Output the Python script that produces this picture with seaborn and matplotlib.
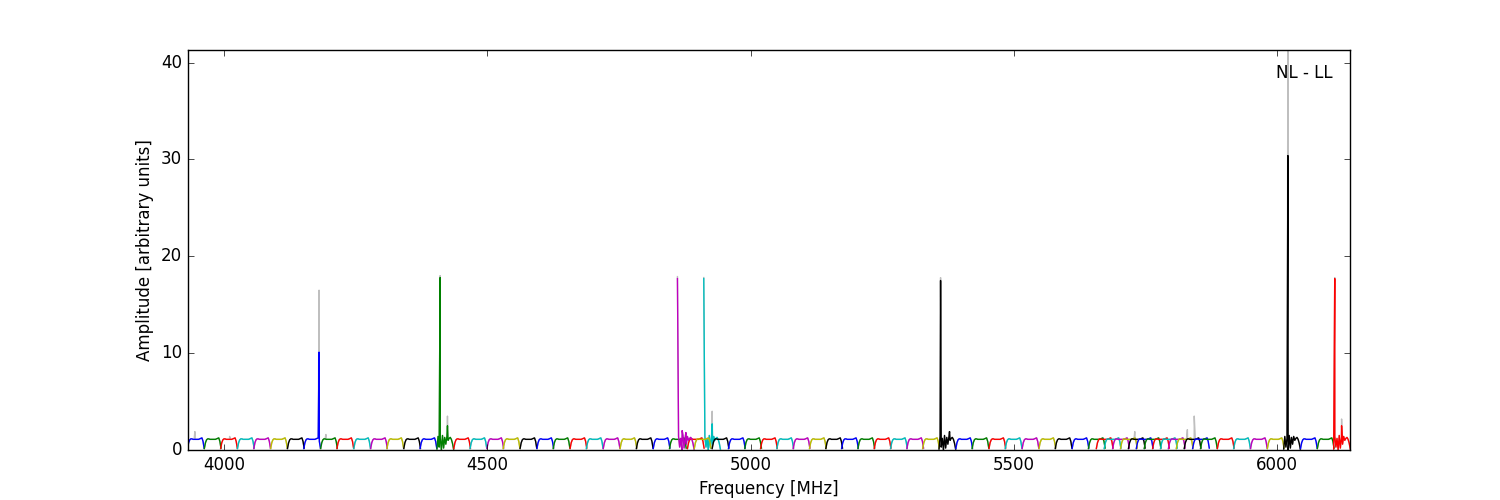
import numpy as np
import pandas as pd
import matplotlib
matplotlib.use("Agg")
import matplotlib.pyplot as plt
import seaborn as sns

#************************************************** Data *******************************************************

# start frequency [MHz] of every subband, colours cycle b g r c m y k by index
sb_start = [3930, 3962, 3993, 4025, 4056, 4088, 4120, 4151, 4183, 4214,
            4246, 4278, 4309, 4341, 4372, 4404, 4436, 4467, 4499, 4530,
            4562, 4594, 4625, 4657, 4688, 4720, 4752, 4783, 4815, 4846,
            4880, 4911, 4861, 4893, 4927, 4958, 4989, 5019, 5050, 5081,
            5112, 5143, 5173, 5204, 5235, 5266, 5297, 5327, 5358, 5390,
            5421, 5453, 5484, 5516, 5548, 5579, 5611, 5642, 5657, 5672,
            5688, 5703, 5718, 5733, 5748, 5764, 5779, 5794, 5809, 5824,
            5840, 5855, 5887, 5918, 5950, 5982, 6013, 6045, 6077, 6108]
sb_width = 31.6

# bandpass shape of one subband (amplitude per channel)
bandpass = [0.15, 0.75, 1.05, 1.15, 1.15, 1.1, 1.1, 1.1, 1.1, 1.1, 1.1, 1.15, 1.2, 1.25, 0.9, 0.2]
# shape of the subbands hit by interference
rfi_shape = [0.1, 1.4, 0.3, 1.2, 0.0, 1.5, 0.2, 1.3, 0.6, 1.4, 1.0, 1.2, 1.3, 1.1, 0.7, 0.1]
rfi_subbands = [15, 31, 32, 48, 76, 79]

# spikes in the coloured (flagged) data: subband, frequency, amplitude
spike_sb = [7, 15, 15, 32, 32, 32, 31, 31, 48, 48, 76, 79, 79]
spike_freq = [4180, 4410, 4424, 4861, 4870, 4877, 4911, 4927, 5361, 5378, 6021, 6110, 6123]
spike_amp = [10.1, 17.8, 2.5, 17.7, 2.0, 1.8, 17.7, 2.7, 17.5, 1.9, 30.4, 17.7, 2.5]

# spikes in the grey (unflagged) data
gray_sb = [0, 2, 7, 8, 15, 15, 32, 31, 31, 48, 62, 69, 69, 76, 79, 79]
gray_freq = [3944, 4010, 4180, 4193, 4410, 4424, 4861, 4911, 4927, 5361, 5730, 5830, 5843, 6021, 6110, 6123]
gray_amp = [1.9, 1.4, 16.5, 1.6, 18.0, 3.5, 17.9, 17.8, 4.0, 17.8, 1.9, 2.1, 3.5, 41.3, 17.8, 3.2]

station = "NL - LL"
colours = ["b", "g", "r", "c", "m", "y", "k"]

#************************************************** Build frames *******************************************************

def subband_frame(sbs, freqs, amps):

    rows = []
    for i, start in enumerate(sb_start):
        shape = rfi_shape if i in rfi_subbands else bandpass
        chan = start + np.arange(len(shape)) * sb_width / (len(shape) - 1)
        pts = dict(zip(chan, shape))
        # put the spikes on top of the bandpass
        for s, f, a in zip(sbs, freqs, amps):
            if s == i:
                pts[f] = a
        for f in sorted(pts):
            rows.append({"subband": i, "freq": f, "amp": pts[f]})
    return pd.DataFrame(rows)

flagged = subband_frame(spike_sb, spike_freq, spike_amp)
raw = subband_frame(spike_sb + gray_sb, spike_freq + gray_freq, spike_amp + gray_amp)

palette = {i: colours[i % 7] for i in range(len(sb_start))}

#************************************************** Plot *******************************************************

plt.style.use("classic")
fig, ax = plt.subplots(figsize=(15, 5), dpi=100)

sns.lineplot(data=raw, x="freq", y="amp", units="subband", estimator=None,
             color="0.75", lw=1, ax=ax, legend=False)
sns.lineplot(data=flagged, x="freq", y="amp", hue="subband", palette=palette,
             estimator=None, lw=1, ax=ax, legend=False)

ax.set_xlim(3930, 6139)
ax.set_ylim(0, 41.3)
ax.set_xticks([4000, 4500, 5000, 5500, 6000])
ax.set_yticks([0, 10, 20, 30, 40])
ax.set_xlabel("Frequency [MHz]")
ax.set_ylabel("Amplitude [arbitrary units]")
ax.text(0.985, 0.965, station, ha="right", va="top", transform=ax.transAxes)

fig.savefig("out.png", facecolor="white")
